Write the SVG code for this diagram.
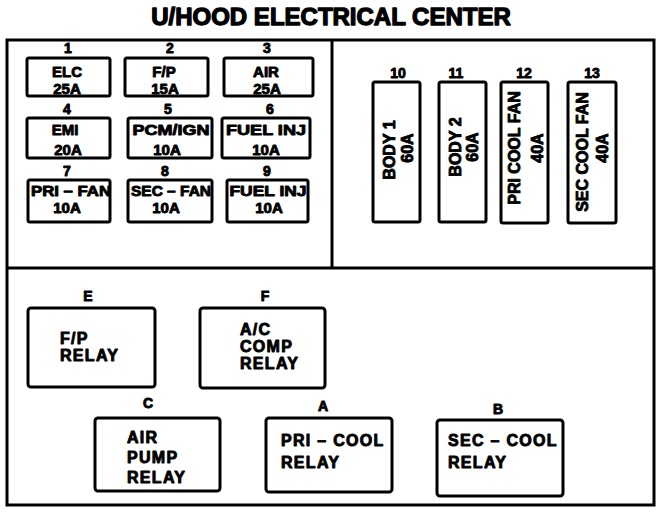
<svg xmlns="http://www.w3.org/2000/svg" width="672" height="512" viewBox="0 0 672 512">
<style>
  text { font-family: "Liberation Sans", Arial, sans-serif; font-weight: bold; fill: #000; stroke: #000; stroke-width: 0.9; stroke-linejoin: round; }
  .title { font-size: 24px; text-anchor: middle; stroke-width: 1.3; }
  .num { font-size: 14px; text-anchor: middle; }
  .fuse { font-size: 15px; text-anchor: middle; }
  .maxi { font-size: 16px; text-anchor: middle; }
  .relay { font-size: 16px; letter-spacing: 1.3px; }
  .box { fill: #fff; stroke: #000; stroke-width: 3; }
  .frame { fill: none; stroke: #000; stroke-width: 3; }
</style>
<rect width="672" height="512" fill="#fff"/>
<text class="title" x="331" y="25">U/HOOD ELECTRICAL CENTER</text>

<g id="frame">
  <rect class="frame" x="7" y="40" width="647" height="465"/>
  <line class="frame" x1="332" y1="40" x2="332" y2="268"/>
  <line class="frame" x1="7" y1="268" x2="654" y2="268"/>
</g>

<g id="fuse1">
  <text class="num" x="68" y="53">1</text>
  <rect class="box" x="27" y="58" width="83" height="38" rx="2"/>
  <text class="fuse" x="67" y="77">ELC</text>
  <text class="fuse" x="67" y="94">25A</text>
</g>
<g id="fuse2">
  <text class="num" x="170" y="53">2</text>
  <rect class="box" x="125" y="58" width="83" height="38" rx="2"/>
  <text class="fuse" x="164" y="77">F/P</text>
  <text class="fuse" x="165" y="94">15A</text>
</g>
<g id="fuse3">
  <text class="num" x="267" y="53">3</text>
  <rect class="box" x="224" y="58" width="89" height="38" rx="2"/>
  <text class="fuse" x="266" y="77">AIR</text>
  <text class="fuse" x="267" y="94">25A</text>
</g>
<g id="fuse4">
  <text class="num" x="67" y="114">4</text>
  <rect class="box" x="27" y="118" width="83" height="40" rx="2"/>
  <text class="fuse" x="65" y="135">EMI</text>
  <text class="fuse" x="68" y="155">20A</text>
</g>
<g id="fuse5">
  <text class="num" x="168" y="114">5</text>
  <rect class="box" x="128" y="118" width="84" height="40" rx="2"/>
  <text class="fuse" x="171" y="135" textLength="77" lengthAdjust="spacingAndGlyphs">PCM/IGN</text>
  <text class="fuse" x="167" y="155">10A</text>
</g>
<g id="fuse6">
  <text class="num" x="270" y="114">6</text>
  <rect class="box" x="222" y="118" width="88" height="40" rx="2"/>
  <text class="fuse" x="266" y="135" textLength="80" lengthAdjust="spacingAndGlyphs">FUEL INJ</text>
  <text class="fuse" x="266" y="155">10A</text>
</g>
<g id="fuse7">
  <text class="num" x="67" y="176">7</text>
  <rect class="box" x="28" y="180" width="82" height="42" rx="2"/>
  <text class="fuse" x="71" y="196" textLength="80" lengthAdjust="spacingAndGlyphs">PRI – FAN</text>
  <text class="fuse" x="67" y="213">10A</text>
</g>
<g id="fuse8">
  <text class="num" x="165" y="176">8</text>
  <rect class="box" x="128" y="180" width="84" height="42" rx="2"/>
  <text class="fuse" x="171" y="196" textLength="80" lengthAdjust="spacingAndGlyphs">SEC – FAN</text>
  <text class="fuse" x="166" y="213">10A</text>
</g>
<g id="fuse9">
  <text class="num" x="267" y="176">9</text>
  <rect class="box" x="227" y="180" width="81" height="42" rx="2"/>
  <text class="fuse" x="268" y="196" textLength="77" lengthAdjust="spacingAndGlyphs">FUEL INJ</text>
  <text class="fuse" x="269" y="213">10A</text>
</g>

<g id="fuse10">
  <text class="num" x="398" y="78">10</text>
  <rect class="box" x="373" y="82" width="47" height="140" rx="2"/>
  <text class="maxi" transform="translate(395,150) rotate(-90)">BODY 1</text>
  <text class="maxi" transform="translate(413,148) rotate(-90)">60A</text>
</g>
<g id="fuse11">
  <text class="num" x="456" y="78">11</text>
  <rect class="box" x="439" y="82" width="47" height="140" rx="2"/>
  <text class="maxi" transform="translate(461,147) rotate(-90)">BODY 2</text>
  <text class="maxi" transform="translate(478,147) rotate(-90)">60A</text>
</g>
<g id="fuse12">
  <text class="num" x="524" y="78">12</text>
  <rect class="box" x="501" y="82" width="47" height="141" rx="2"/>
  <text class="maxi" transform="translate(520,148) rotate(-90)">PRI COOL FAN</text>
  <text class="maxi" transform="translate(543,148) rotate(-90)">40A</text>
</g>
<g id="fuse13">
  <text class="num" x="592" y="78">13</text>
  <rect class="box" x="568" y="82" width="48" height="141" rx="2"/>
  <text class="maxi" transform="translate(588,152) rotate(-90)">SEC COOL FAN</text>
  <text class="maxi" transform="translate(608,148) rotate(-90)">40A</text>
</g>

<g id="relayE">
  <text class="num" x="88" y="301">E</text>
  <rect class="box" x="28" y="308" width="127" height="79" rx="3"/>
  <text class="relay" x="60" y="344">F/P</text>
  <text class="relay" x="60" y="361">RELAY</text>
</g>
<g id="relayF">
  <text class="num" x="265" y="301">F</text>
  <rect class="box" x="200" y="308" width="125" height="80" rx="3"/>
  <text class="relay" x="240" y="335">A/C</text>
  <text class="relay" x="240" y="352">COMP</text>
  <text class="relay" x="240" y="369">RELAY</text>
</g>
<g id="relayC">
  <text class="num" x="148" y="408">C</text>
  <rect class="box" x="95" y="418" width="125" height="73" rx="3"/>
  <text class="relay" x="127" y="443">AIR</text>
  <text class="relay" x="127" y="463">PUMP</text>
  <text class="relay" x="127" y="483">RELAY</text>
</g>
<g id="relayA">
  <text class="num" x="323" y="411">A</text>
  <rect class="box" x="266" y="418" width="126" height="74" rx="3"/>
  <text class="relay" x="281" y="446">PRI – COOL</text>
  <text class="relay" x="281" y="468">RELAY</text>
</g>
<g id="relayB">
  <text class="num" x="498" y="414">B</text>
  <rect class="box" x="437" y="420" width="126" height="76" rx="3"/>
  <text class="relay" x="448" y="446">SEC – COOL</text>
  <text class="relay" x="448" y="468">RELAY</text>
</g>

<g id="connectors"></g>
</svg>
